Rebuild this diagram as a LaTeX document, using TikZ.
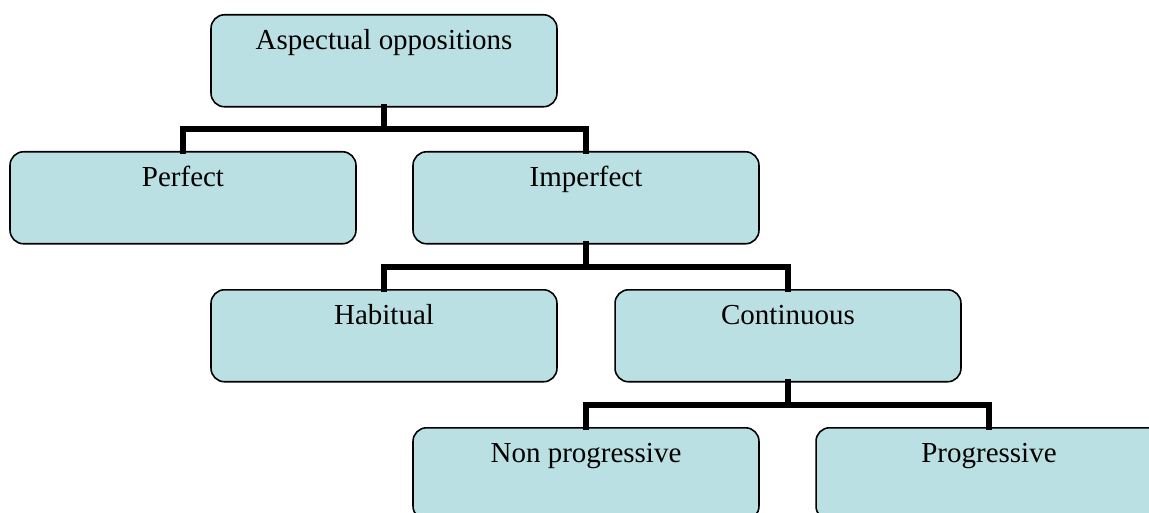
\documentclass[tikz,border=0pt]{standalone}
\usepackage{fontspec}
\setmainfont{Liberation Serif}
\definecolor{boxfill}{HTML}{BBE0E3}
\tikzset{
  aspbox/.style={draw=black,line width=0.9pt,fill=boxfill,rounded corners=0.27cm,
    minimum width=6.92cm,minimum height=1.84cm,inner sep=0pt,anchor=north,
    text height=0.70cm,text depth=1.14cm,font=\fontsize{16.5}{19}\selectfont},
  link/.style={line width=3.6pt,line cap=rect}
}
\begin{document}
\begin{tikzpicture}[x=0.02cm,y=-0.02cm]
        \useasboundingbox (0,0) rectangle (1149,513);
        \clip (0,0) rectangle (1149,513);
        % boxes
        \node[aspbox] (asp) at (384,14) {Aspectual oppositions};
        \node[aspbox] (perf) at (183,151) {Perfect};
        \node[aspbox] (imp) at (586,151) {Imperfect};
        \node[aspbox] (hab) at (384,289) {Habitual};
        \node[aspbox] (cont) at (788,289) {Continuous};
        \node[aspbox] (nonprog) at (586,427) {Non progressive};
        \node[aspbox] (prog) at (989,427) {Progressive};
        % connectors
        \coordinate (j1) at (384,129);
        \coordinate (j2) at (586,267);
        \coordinate (j3) at (788,405);
        \draw[link] (asp.south) -- (j1);
        \draw[link] (perf.north) |- (j1) -| (imp.north);
        \draw[link] (imp.south) -- (j2);
        \draw[link] (hab.north) |- (j2) -| (cont.north);
        \draw[link] (cont.south) -- (j3);
        \draw[link] (nonprog.north) |- (j3) -| (prog.north);
      \end{tikzpicture}
\end{document}
